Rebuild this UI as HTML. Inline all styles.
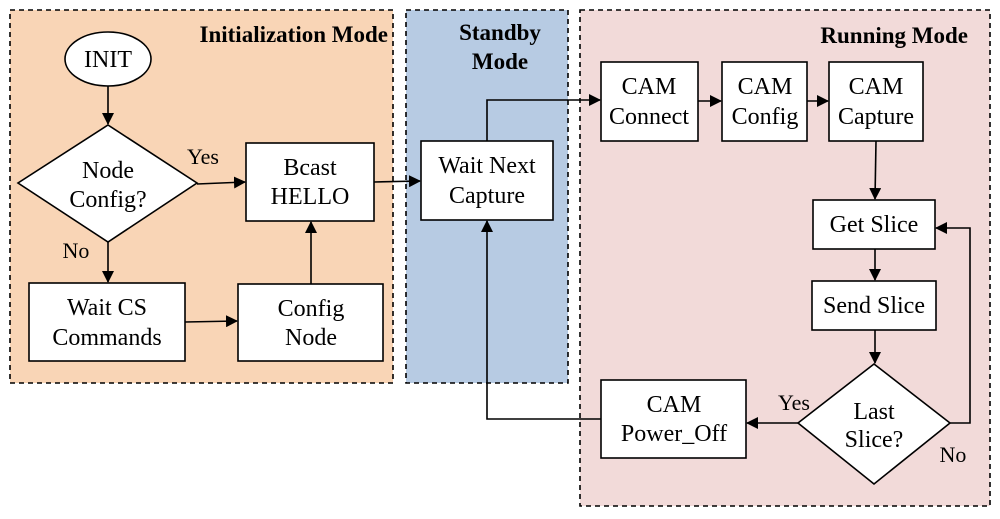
<!DOCTYPE html>
<html><head><style>body{margin:0;background:#fff}text{font-family:"Liberation Serif","Times New Roman",Times,serif}</style></head><body>
<svg width="1000" height="514" viewBox="0 0 1000 514" xmlns="http://www.w3.org/2000/svg" font-family="Liberation Serif, Times New Roman, serif">
<defs><marker id="a" markerWidth="12" markerHeight="12" refX="11" refY="6" orient="auto" markerUnits="userSpaceOnUse"><path d="M0,0L12,6L0,12z" fill="#000"/></marker></defs>
<g stroke="#000" stroke-width="1.6" stroke-dasharray="5,4">
<rect x="10" y="10" width="383" height="373" fill="#f9d5b6"/>
<rect x="406" y="10" width="162" height="373" fill="#b7cbe3"/>
<rect x="580" y="10" width="410" height="496" fill="#f2dad9"/>
</g>
<g font-weight="bold" font-size="23" text-anchor="end">
<text x="388" y="42">Initialization Mode</text>
<text x="968" y="43">Running Mode</text>
</g>
<g font-weight="bold" font-size="23" text-anchor="middle"><text x="500" y="40">Standby</text><text x="500" y="69">Mode</text></g>
<g fill="#fff" stroke="#000" stroke-width="1.6">
<ellipse cx="108" cy="59" rx="43" ry="27"/>
<polygon points="108,125 197,183 108,242 18,183"/>
<rect x="246" y="143" width="128" height="78"/>
<rect x="29" y="283" width="156" height="78"/>
<rect x="238" y="284" width="145" height="77"/>
<rect x="421" y="141" width="132" height="79"/>
<rect x="601" y="62" width="97" height="79"/>
<rect x="722" y="62" width="85" height="79"/>
<rect x="829" y="62" width="94" height="79"/>
<rect x="813" y="200" width="122" height="49"/>
<rect x="812" y="281" width="124" height="49"/>
<polygon points="874,364 950,423 874,484 798,423"/>
<rect x="601" y="380" width="145" height="78"/>
</g>
<g stroke="#000" stroke-width="1.6" fill="none" marker-end="url(#a)">
<line x1="108" y1="86" x2="108" y2="124"/>
<line x1="197" y1="184" x2="245" y2="182"/>
<line x1="108" y1="242" x2="108" y2="282"/>
<line x1="185" y1="322" x2="237" y2="321"/>
<line x1="311" y1="284" x2="311" y2="222"/>
<line x1="374" y1="182" x2="420" y2="181"/>
<polyline points="487,141 487,100 600,100"/>
<line x1="698" y1="101" x2="721" y2="101"/>
<line x1="807" y1="101" x2="828" y2="101"/>
<line x1="876" y1="141" x2="875" y2="199"/>
<line x1="875" y1="249" x2="875" y2="280"/>
<line x1="875" y1="330" x2="875" y2="363"/>
<polyline points="950,423 970,423 970,228 936,228"/>
<line x1="798" y1="423" x2="747" y2="423"/>
<polyline points="601,419 487,419 487,221"/>
</g>
<g font-size="24" text-anchor="middle">
<text x="108" y="67">INIT</text>
<text x="108" y="178">Node</text><text x="108" y="207">Config?</text>
<text x="310" y="175">Bcast</text><text x="310" y="204">HELLO</text>
<text x="107" y="315">Wait CS</text><text x="107" y="345">Commands</text>
<text x="311" y="316">Config</text><text x="311" y="345">Node</text>
<text x="487" y="173">Wait Next</text><text x="487" y="203">Capture</text>
<text x="649" y="94">CAM</text><text x="649" y="124">Connect</text>
<text x="765" y="94">CAM</text><text x="765" y="124">Config</text>
<text x="876" y="94">CAM</text><text x="876" y="124">Capture</text>
<text x="874" y="232">Get Slice</text>
<text x="874" y="313">Send Slice</text>
<text x="874" y="419">Last</text><text x="874" y="447">Slice?</text>
<text x="674" y="412">CAM</text><text x="674" y="441">Power_Off</text>
</g>
<g font-size="22" text-anchor="middle">
<text x="203" y="164">Yes</text>
<text x="76" y="258">No</text>
<text x="794" y="410">Yes</text>
<text x="953" y="462">No</text>
</g>
</svg>
</body></html>
